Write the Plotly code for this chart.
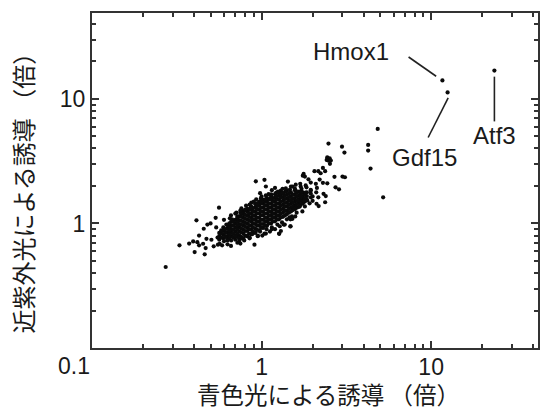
import plotly.graph_objects as go

x_title = "青色光による誘導 （倍）"
y_title = "近紫外光による誘導 （倍）"
x_tick_values = [1, 10]
y_tick_values = [1, 10]
minor_x_values = [0.2, 0.3, 0.4, 0.5, 0.6, 0.7, 0.8, 0.9, 2, 3, 4, 5, 6, 7, 8, 9, 20, 30, 40]
minor_y_values = [0.2, 0.3, 0.4, 0.5, 0.6, 0.7, 0.8, 0.9, 2, 3, 4, 5, 6, 7, 8, 9, 20, 30, 40]

core_col_x = [.563, .595, .628, .662, .70, .738, .78, .822, .868, .916, .967, 1.02, 1.077, 1.137, 1.2, 1.266,
              1.337, 1.41, 1.49, 1.57, 1.66, 1.75, 1.85, 1.95]
core_col_y = [
    [.74, .79, .84],
    [.76, .81, .87, .93],
    [.74, .79, .85, .91, .97],
    [.73, .79, .85, .90, .96, 1.03],
    [.74, .80, .86, .93, 1.0, 1.07],
    [.75, .80, .86, .93, .99, 1.06, 1.14],
    [.76, .83, .89, .96, 1.03, 1.11, 1.19, 1.25],
    [.80, .87, .93, 1.0, 1.08, 1.16, 1.25, 1.31],
    [.82, .89, .96, 1.04, 1.11, 1.20, 1.29, 1.37],
    [.84, .91, .99, 1.07, 1.15, 1.24, 1.34, 1.43],
    [.88, .96, 1.03, 1.11, 1.2, 1.29, 1.39, 1.49],
    [.92, .99, 1.07, 1.16, 1.24, 1.34, 1.44, 1.55],
    [.96, 1.04, 1.11, 1.2, 1.29, 1.39, 1.49, 1.6],
    [1.0, 1.08, 1.16, 1.24, 1.34, 1.44, 1.55, 1.66],
    [1.04, 1.12, 1.2, 1.29, 1.39, 1.49, 1.6, 1.72],
    [1.08, 1.16, 1.25, 1.35, 1.45, 1.56, 1.67, 1.78],
    [1.13, 1.22, 1.31, 1.41, 1.52, 1.63, 1.75],
    [1.19, 1.27, 1.37, 1.47, 1.58, 1.7, 1.83],
    [1.25, 1.34, 1.44, 1.54, 1.66, 1.78],
    [1.3, 1.4, 1.5, 1.6, 1.72, 1.85],
    [1.36, 1.46, 1.57, 1.68, 1.8],
    [1.45, 1.55, 1.66, 1.78],
    [1.55, 1.66, 1.78],
    [1.62, 1.74, 1.86],
]
mid_col_x = [.578, .611, .645, .68, .719, .758, .80, .845, .891, .94, .993, 1.05, 1.105, 1.168, 1.233, 1.30,
             1.373, 1.45, 1.53, 1.615, 1.705, 1.8]
mid_col_y = [
    [.77, .83, .88],
    [.78, .84, .90],
    [.76, .82, .88, .94, 1.0],
    [.77, .83, .89, .96, 1.03],
    [.78, .83, .90, .96, 1.03, 1.1],
    [.78, .85, .91, .98, 1.05, 1.13, 1.2],
    [.80, .87, .94, 1.01, 1.09, 1.17, 1.27],
    [.83, .9, .97, 1.05, 1.13, 1.21, 1.3],
    [.86, .93, 1.0, 1.08, 1.16, 1.25, 1.33],
    [.89, .96, 1.03, 1.11, 1.2, 1.29, 1.38],
    [.92, .99, 1.07, 1.16, 1.25, 1.34, 1.45],
    [.96, 1.03, 1.11, 1.2, 1.3, 1.4, 1.5],
    [1.0, 1.08, 1.16, 1.25, 1.34, 1.44, 1.55],
    [1.04, 1.12, 1.2, 1.29, 1.39, 1.5, 1.6],
    [1.08, 1.16, 1.25, 1.34, 1.44, 1.55, 1.66],
    [1.12, 1.2, 1.3, 1.4, 1.5, 1.62, 1.72],
    [1.16, 1.26, 1.36, 1.46, 1.57, 1.68],
    [1.22, 1.31, 1.41, 1.52, 1.63, 1.75],
    [1.28, 1.37, 1.47, 1.58, 1.7],
    [1.34, 1.43, 1.53, 1.65, 1.77],
    [1.42, 1.52, 1.63, 1.75],
    [1.5, 1.6, 1.72],
]

fringe_x = [.76, .75, .77, .74, .81, .80, .82, .79, .87, .86, .88, .85, .93, .94, .92, .95, .99, 1.0, .98, 1.01,
            1.06, 1.05, 1.07, 1.04, 1.14, 1.13, 1.15, 1.12, 1.22, 1.21, 1.24, 1.2, 1.3, 1.29, 1.32, 1.28,
            1.39, 1.38, 1.41, 1.37, 1.49, 1.47, 1.51, 1.48, 1.59, 1.57, 1.61, 1.58, 1.7, 1.72, 1.68, 1.74,
            1.82, 1.86, 1.8, 1.95, 2.0, 1.92, .71, .72, .7, .66, .67, .62, .63, .54, .55]
fringe_y = [1.32, 1.22, .76, .73, 1.39, 1.29, .79, .73, 1.47, 1.34, .82, .77, 1.56, 1.45, .85, .79, 1.59, 1.5, .86, .80,
            1.68, 1.56, .9, .83, 1.71, 1.59, .93, .86, 1.77, 1.65, .98, .9, 1.84, 1.74, 1.02, .95,
            1.91, 1.8, 1.08, .98, 1.98, 1.87, 1.14, 1.08, 2.05, 1.91, 1.22, 1.14, 1.98, 1.8, 1.37, 1.25,
            2.02, 1.53, 1.37, 1.84, 1.65, 1.45, 1.22, 1.14, .79, 1.16, 1.08, .98, .73, .93, .77]

outlier_x = [2.48, 2.98, 3.08, 4.25, 4.25, 4.39, 5.21, 4.84, 11.65, 12.5, 23.6,
             .272, .328, .413, .403, .462, .374, .395, .418, .428, .452, .468, .522, .553, .428, .456, .473, .479, .50,
             .536, .561, .506, .925, 1.04, 1.43, .908, 1.48, 1.27, 1.06, 1.2, .585, .566,
             2.44, 2.52, 2.47, 2.56, 2.53, 2.42, 2.3, 2.37, 2.05, 2.16, 2.23, 1.77, 1.75, 1.8, 1.89, 1.95, 2.2, 2.3, 2.44,
             2.69, 3.0, 3.1, 2.73, 2.86, 2.09, 2.12, 2.1, 2.16, 2.32, 2.39, 2.37, 2.0, 2.11, 2.17, 1.71, 1.63, 1.78, 1.82,
             1.84, 1.69, 1.72, 1.33, 1.52, 1.59, 1.48, 1.56, 1.46, 1.52,
             1.27, 1.3, 1.48, 1.35, 1.15, 1.06, .95, .85, .75, .72, .66, .63, .6,
             .7, .75, .85, .9, 1.0, 1.1, 1.15, .98, 1.25, 1.33, .65, .6]
outlier_y = [4.38, 4.14, 3.71, 4.27, 3.85, 2.76, 1.62, 5.74, 14.07, 11.27, 16.9,
             .447, .667, 1.06, .589, .565, .69, .718, .708, .667, .687, .634, .655, .675, .80, .907, .753, .98, 1.0,
             1.11, 1.34, .74, 2.18, 2.24, 2.17, .675, .946, .826, 1.98, 1.93, .667, .687,
             3.4, 3.34, 3.2, 3.2, 3.01, 3.24, 2.79, 2.63, 2.63, 2.63, 2.53, 2.5, 2.42, 2.38, 2.26, 2.13, 2.25, 2.12, 2.1,
             2.37, 2.38, 2.35, 1.95, 1.88, 2.08, 1.93, 1.78, 1.62, 1.73, 1.66, 1.48, 1.52, 1.44, 1.38, 1.65, 1.53, 1.51, 1.77,
             1.95, 2.08, 1.9, 1.9, 1.98, 1.84, 1.53, 1.31, 1.12, 1.09,
             .83, .87, .95, .98, .9, .83, .8, .76, .69, .7, .66, .68, .72,
             1.2, 1.27, 1.42, 1.5, 1.65, 1.72, 1.85, 1.75, 1.8, 1.75, 1.1, 1.07]

leader_hmox1_x = [7.36, 10.7]
leader_hmox1_y = [21.7, 15.2]
leader_gdf15_x = [12.6, 9.6]
leader_gdf15_y = [10.2, 4.9]
leader_atf3_x = [23.6, 23.6]
leader_atf3_y = [15.1, 6.6]

gene_names = ["Hmox1", "Gdf15", "Atf3"]
gene_label_logx = [.525, .961, 1.375]
gene_label_logy = [1.378, .531, .705]

INK = "#1a1a1a"
LABEL = "Liberation Sans, Arial, sans-serif"
CJK = "Noto Sans CJK JP"

xs, ys = [], []
for cols_x, cols_y in [(core_col_x, core_col_y), (mid_col_x, mid_col_y)]:
    for cx, cy in zip(cols_x, cols_y):
        xs += [cx] * len(cy)
        ys += cy
xs += fringe_x + outlier_x
ys += fringe_y + outlier_y

fig = go.Figure()
fig.add_trace(go.Scatter(x=xs, y=ys, mode="markers", marker=dict(color="#0a0a0a", size=4.2, line=dict(width=0)),
                         hoverinfo="skip", showlegend=False))
for lx, ly in [(leader_hmox1_x, leader_hmox1_y), (leader_gdf15_x, leader_gdf15_y), (leader_atf3_x, leader_atf3_y)]:
    fig.add_trace(go.Scatter(x=lx, y=ly, mode="lines", line=dict(color="#222", width=1.6),
                             hoverinfo="skip", showlegend=False))

axis_common = dict(type="log", showgrid=False, zeroline=False, showline=True, linecolor="#333", linewidth=2,
                   mirror="ticks", ticks="inside", ticklen=7, tickwidth=1.5, tickcolor="#333",
                   tickfont=dict(family=LABEL, size=23, color=INK), tickmode="array")
fig.update_xaxes(range=[-1, 1.63], tickvals=x_tick_values, ticktext=[str(v) for v in x_tick_values],
                 ticklabelstandoff=-3,
                 minor=dict(tickmode="array", tickvals=minor_x_values, ticks="inside", ticklen=4, tickwidth=1.5, tickcolor="#333"),
                 **axis_common)
fig.update_yaxes(range=[-1, 1.69], tickvals=y_tick_values, ticktext=[str(v) for v in y_tick_values],
                 minor=dict(tickmode="array", tickvals=minor_y_values, ticks="inside", ticklen=4, tickwidth=1.5, tickcolor="#333"),
                 **axis_common)

for name, ax, ay in zip(gene_names, gene_label_logx, gene_label_logy):
    fig.add_annotation(x=ax, y=ay, xref="x", yref="y", text=name, showarrow=False,
                       font=dict(family=LABEL, size=24, color=INK))
fig.add_annotation(x=0, y=0, xref="paper", yref="paper", text="0.1", showarrow=False, xanchor="center", yanchor="top",
                   xshift=-18, yshift=-3, font=dict(family=LABEL, size=23, color=INK))
fig.add_annotation(x=0.5, y=0, xref="paper", yref="paper", text=x_title, showarrow=False, xanchor="center", yanchor="middle",
                   xshift=13, yshift=-46, font=dict(family=CJK, size=23.5, color=INK))
fig.add_annotation(x=0, y=0.5, xref="paper", yref="paper", text=y_title, showarrow=False, textangle=-90,
                   xanchor="center", yanchor="middle", xshift=-70, yshift=-7, font=dict(family=CJK, size=24, color=INK))

fig.update_layout(width=540, height=408, autosize=False, margin=dict(l=92, r=0, t=13, b=60),
                  paper_bgcolor="white", plot_bgcolor="white")
fig.write_html("out.html", post_script="document.body.style.margin='0';", config=dict(displayModeBar=False))
